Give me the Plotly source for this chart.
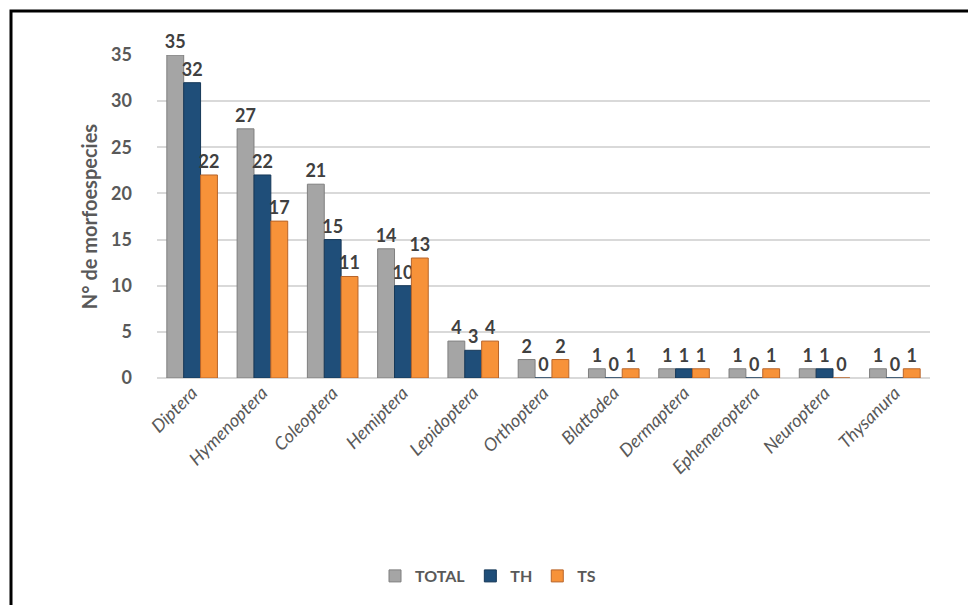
import plotly.graph_objects as go

orders = ["Diptera", "Hymenoptera", "Coleoptera", "Hemiptera", "Lepidoptera",
          "Orthoptera", "Blattodea", "Dermaptera", "Ephemeroptera", "Neuroptera",
          "Thysanura"]
total = [35, 27, 21, 14, 4, 2, 1, 1, 1, 1, 1]
th = [32, 22, 15, 10, 3, 0, 0, 1, 0, 1, 0]
ts = [22, 17, 11, 13, 4, 2, 1, 1, 1, 0, 1]
y_ticks = [0, 5, 10, 15, 20, 25, 30, 35]

series = [
    ("TOTAL", total, "#A5A5A5", "#7F7F7F"),
    ("TH", th, "#1F4E79", "#163858"),
    ("TS", ts, "#F79239", "#B8652A"),
]

W, H = 968, 605
L, R, T, B = 157, 38, 55, 227
pw, ph = W - L - R, H - T - B

def px_x(v):
    return (v - L) / pw

def px_y(v):
    return (H - B - v) / ph

fig = go.Figure()
for name, vals, color, edge in series:
    fig.add_trace(go.Bar(
        name=name, x=orders, y=vals,
        marker=dict(color=color, line=dict(color=edge, width=1)),
        text=[str(v) for v in vals], textposition="outside",
        constraintext="none",
        textfont=dict(family="Lato", size=18, color="#404040", weight="bold"),
        cliponaxis=False,
    ))

fig.update_layout(
    width=W, height=H,
    margin=dict(l=L, r=R, t=T, b=B),
    paper_bgcolor="white", plot_bgcolor="white",
    barmode="group", bargap=0.28, bargroupgap=0.0,
    font=dict(family="Lato", color="#595959"),
    showlegend=True,
    legend=dict(
        orientation="h", x=px_x(488), xanchor="center",
        y=px_y(576), yanchor="middle",
        font=dict(family="Lato", size=16, color="#595959", weight="bold"),
        itemwidth=30, traceorder="normal",
    ),
    xaxis=dict(
        tickangle=-45, showgrid=False, showline=False, ticks="",
        tickfont=dict(family="Lato", size=18, color="#595959", style="italic"),
    ),
    yaxis=dict(
        range=[0, 35], tickvals=y_ticks, showgrid=True,
        gridcolor="#D9D9D9", gridwidth=1.5, zeroline=True,
        zerolinecolor="#D9D9D9", zerolinewidth=1.5,
        showline=False, ticks="", ticklabelstandoff=24,
        tickfont=dict(family="Lato", size=18, color="#595959", weight="bold"),
        title=dict(text="N° de morfoespecies", standoff=8,
                   font=dict(family="Lato", size=20, color="#595959", weight="bold")),
    ),
    shapes=[dict(
        type="rect", xref="paper", yref="paper",
        x0=px_x(11), x1=px_x(975), y0=px_y(615), y1=px_y(11),
        line=dict(color="black", width=3), fillcolor="rgba(0,0,0,0)",
    )],
)

fig.write_html("out.html")
